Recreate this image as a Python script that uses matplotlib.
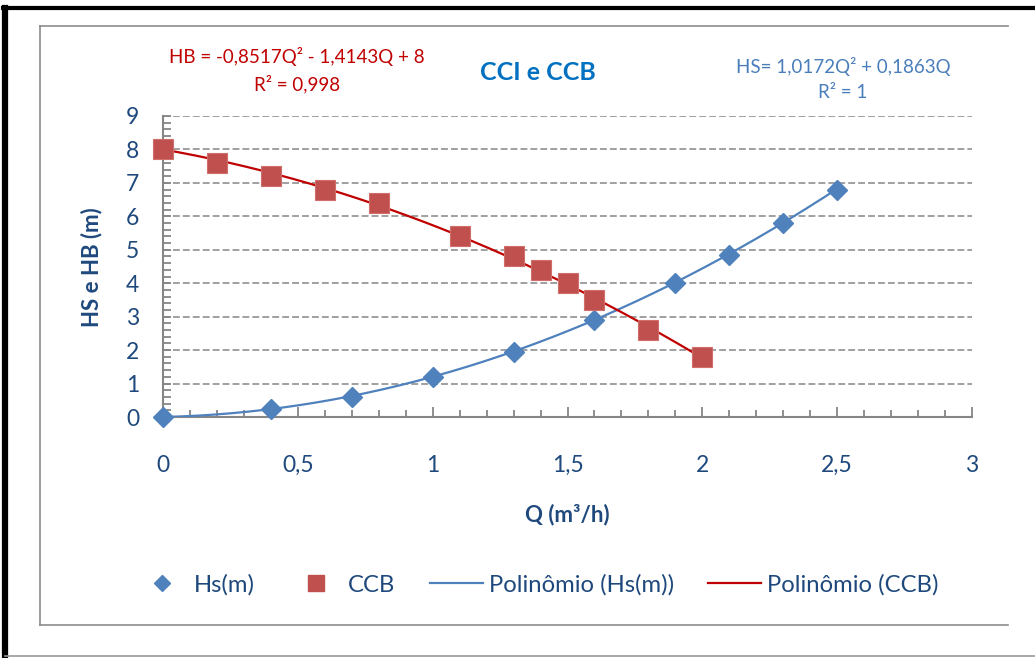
import numpy as np
import matplotlib
matplotlib.use('Agg')
import matplotlib.pyplot as plt
from matplotlib.lines import Line2D
from matplotlib.ticker import MultipleLocator, FuncFormatter

plt.rcParams['font.family'] = ['Lato', 'DejaVu Sans']

# CCI (Hs) data
q_hs = [0, 0.4, 0.7, 1.0, 1.3, 1.6, 1.9, 2.1, 2.3, 2.5]
hs = [0, 0.25, 0.6, 1.2, 1.95, 2.9, 4.0, 4.85, 5.8, 6.8]

# CCB data
q_hb = [0, 0.2, 0.4, 0.6, 0.8, 1.1, 1.3, 1.4, 1.5, 1.6, 1.8, 2.0]
hb = [8.0, 7.6, 7.2, 6.8, 6.4, 5.4, 4.8, 4.4, 4.0, 3.5, 2.6, 1.8]

# trend line coefficients (from the chart labels)
coef_hs = [1.0172, 0.1863, 0]
coef_hb = [-0.8517, -1.4143, 8]

W, H = 1035, 658
fig = plt.figure(figsize=(W / 100, H / 100), dpi=100)


def fx(x):
    return x / W


def fy(y):
    return 1 - y / H


navy = '#1F497D'
gray = '#868686'
blue = '#4F81BD'
red_m = '#C0504D'
red_l = '#C00000'

ax = fig.add_axes([fx(163), fy(417), fx(972) - fx(163), fy(116) - fy(417)])

# polynomial trend lines
qq = np.linspace(0, max(q_hs), 200)
ax.plot(qq, np.polyval(coef_hs, qq), color=blue, lw=1.6, zorder=3)
qq = np.linspace(0, max(q_hb), 200)
ax.plot(qq, np.polyval(coef_hb, qq), color=red_l, lw=1.6, zorder=3)

ax.plot(q_hs, hs, 'D', color=blue, ms=10.5, mec=blue, zorder=4, clip_on=False)
ax.plot(q_hb, hb, 's', color=red_m, ms=15, mec='#CF6E6B', mew=0.8, zorder=4, clip_on=False)

ax.set_xlim(0, 3)
ax.set_ylim(0, 9)

for v in range(1, 10):
    ax.axhline(v, color=gray, lw=1.1, ls=(0, (4.5, 2)), zorder=1)

for s in ['top', 'right']:
    ax.spines[s].set_visible(False)
for s in ['left', 'bottom']:
    ax.spines[s].set_color(gray)
    ax.spines[s].set_linewidth(1.5)

ax.xaxis.set_major_locator(MultipleLocator(0.5))
ax.xaxis.set_minor_locator(MultipleLocator(0.1))
ax.yaxis.set_major_locator(MultipleLocator(1))
ax.yaxis.set_minor_locator(MultipleLocator(0.2))
ax.xaxis.set_major_formatter(FuncFormatter(lambda v, p: ('%g' % v).replace('.', ',')))
ax.tick_params(axis='both', which='both', direction='in', color=gray, width=1.3)
ax.tick_params(axis='x', which='major', length=7, pad=27, labelsize=16.5, labelcolor=navy)
ax.tick_params(axis='x', which='minor', length=5)
ax.tick_params(axis='y', which='major', length=6, pad=17, labelsize=16.5, labelcolor=navy)
ax.tick_params(axis='y', which='minor', length=6)

fig.text(fx(92), fy(267), 'HS e HB (m)', rotation=90, ha='center', va='center',
         fontsize=16, fontweight='bold', color=navy)
fig.text(fx(567), fy(515), 'Q (m³/h)', ha='center', va='center',
         fontsize=16, fontweight='bold', color=navy)

fig.text(fx(538), fy(73), 'CCI e CCB', ha='center', va='center',
         fontsize=18, fontweight='bold', color='#0070C0')
fig.text(fx(297), fy(57), 'HB = -0,8517Q² - 1,4143Q + 8', ha='center', va='center',
         fontsize=13.5, color=red_l)
fig.text(fx(297), fy(84), 'R² = 0,998', ha='center', va='center',
         fontsize=13.5, color=red_l)
fig.text(fx(843), fy(67), 'HS= 1,0172Q² + 0,1863Q', ha='center', va='center',
         fontsize=13.5, color='#4A7EBB')
fig.text(fx(843), fy(93), 'R² = 1', ha='center', va='center',
         fontsize=13.5, color='#4A7EBB')

handles = [
    Line2D([], [], ls='none', marker='D', color=blue, ms=8.5),
    Line2D([], [], ls='none', marker='s', color=red_m, ms=12),
    Line2D([], [], color=blue, lw=1.6),
    Line2D([], [], color=red_l, lw=1.6),
]
labels = ['Hs(m)', 'CCB', 'Polinômio (Hs(m))', 'Polinômio (CCB)']
leg = fig.legend(handles, labels, loc='center', bbox_to_anchor=(fx(537), fy(585)),
                 ncol=4, frameon=False, fontsize=17.2, handlelength=2.2,
                 handletextpad=0.25, columnspacing=1.45)
for t in leg.get_texts():
    t.set_color(navy)

# chart area border and outer frame
fig.add_artist(Line2D([fx(40), fx(40)], [fy(26), fy(625)], color='#8C8C8C', lw=1.2))
fig.add_artist(Line2D([fx(40), fx(1008)], [fy(26), fy(26)], color='#8C8C8C', lw=1.2))
fig.add_artist(Line2D([fx(40), fx(1008)], [fy(625), fy(625)], color='#8C8C8C', lw=1.2))
fig.add_artist(Line2D([fx(5), fx(5)], [fy(8), fy(658)], color='black', lw=4.5))
fig.add_artist(Line2D([fx(3), fx(1035)], [fy(8), fy(8)], color='black', lw=3))
fig.add_artist(Line2D([fx(5), fx(1035)], [fy(656), fy(656)], color='#9A9A9A', lw=1.2))

fig.savefig('out.png', dpi=100)
